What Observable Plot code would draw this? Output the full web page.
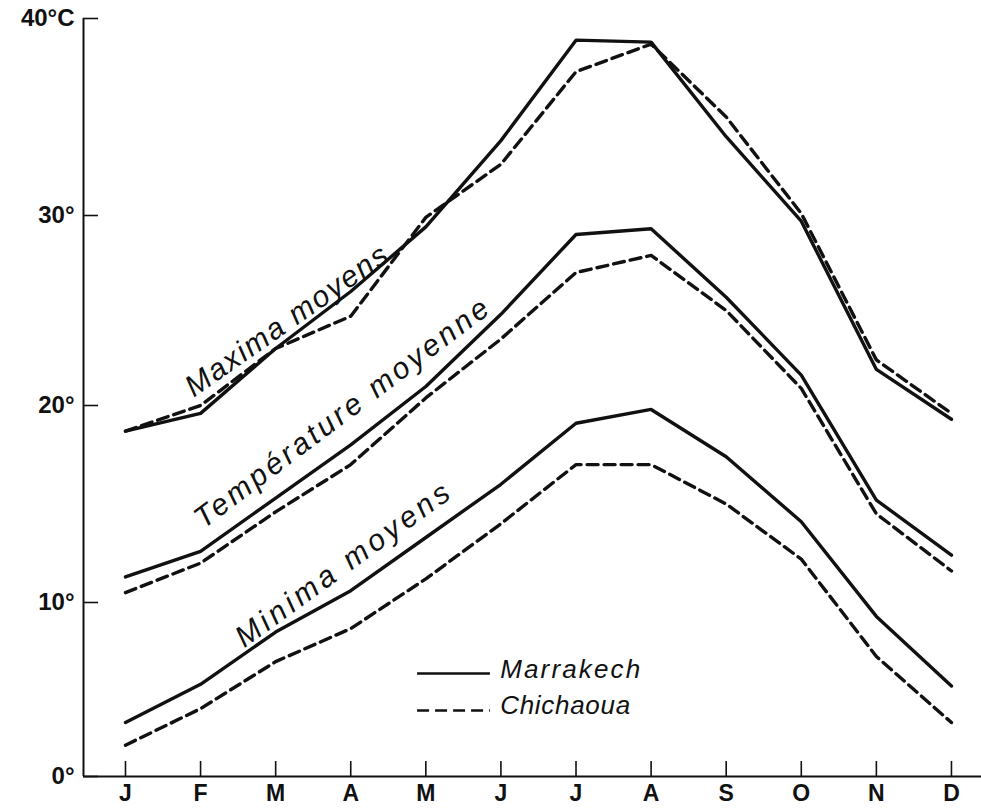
<!DOCTYPE html>
<html>
<head>
<meta charset="utf-8">
<script src="https://cdn.jsdelivr.net/npm/d3@7"></script>
<script src="https://cdn.jsdelivr.net/npm/@observablehq/plot@0.6"></script>
<style>
  html, body { margin: 0; padding: 0; background: #fff; }
  #chart svg { display: block; }
</style>
</head>
<body>
<div id="chart"></div>
<script>
// ---------- data ----------
const months = ["J", "F", "M", "A", "M", "J", "J", "A", "S", "O", "N", "D"];
const monthIndex = months.map((_, i) => i);

const marrakechMax  = [18.7, 19.6, 23.0, 26.0, 29.4, 33.8, 38.9, 38.8, 34.0, 29.7, 21.9, 19.3];
const chichaouaMax  = [18.7, 20.0, 23.0, 24.7, 29.9, 32.6, 37.3, 38.7, 35.0, 30.1, 22.4, 19.6];
const marrakechMean = [11.3, 12.6, 15.3, 18.0, 21.0, 24.8, 29.0, 29.3, 25.7, 21.6, 15.2, 12.4];
const chichaouaMean = [10.5, 12.0, 14.6, 17.0, 20.4, 23.5, 27.0, 27.9, 25.0, 20.9, 14.5, 11.6];
const marrakechMin  = [3.1, 5.3, 8.3, 10.6, 13.3, 16.0, 19.1, 19.8, 17.4, 14.1, 9.2, 5.2];
const chichaouaMin  = [1.8, 3.9, 6.6, 8.5, 11.2, 14.0, 17.0, 17.0, 15.0, 12.2, 6.9, 3.1];

const yTicks = [0, 10, 20, 30, 40];
const yTickLabels = ["0°", "10°", "20°", "30°", "40°C"];

const stations = ["Marrakech", "Chichaoua"];

const curveLabels = ["Maxima moyens", "Température moyenne", "Minima moyens"];
const curveLabelMonth = [2.144, 2.876, 2.89];
const curveLabelValue = [24.45, 19.6, 11.9];
const curveLabelAngle = [-35, -37, -36];

const legendValue = [5.92, 3.79];       // line samples
const legendTextValue = [6.15, 4.05];   // text centres
const legendMonth = [3.89, 4.86, 4.99]; // sample start, sample end, text start

// ---------- layout / style (not data) ----------
const W = 981, H = 810;
const xDomain = [-0.559, 11.4];
const yTickPixels = [776, 602, 405, 215, 18]; // hand-drawn, uneven axis
const labelLengths = {
  "Maxima moyens": 240, "Température moyenne": 360, "Minima moyens": 257,
  "Marrakech": 140, "Chichaoua": 130
};
const font = "'Liberation Sans', Arial, Helvetica, sans-serif";

// ---------- table ----------
const series = [
  {station: stations[0], kind: "max",  values: marrakechMax},
  {station: stations[1], kind: "max",  values: chichaouaMax},
  {station: stations[0], kind: "mean", values: marrakechMean},
  {station: stations[1], kind: "mean", values: chichaouaMean},
  {station: stations[0], kind: "min",  values: marrakechMin},
  {station: stations[1], kind: "min",  values: chichaouaMin}
];
const rows = series.flatMap(s => s.values.map((v, i) => ({m: monthIndex[i], v, station: s.station, kind: s.kind})));
const labelRows = curveLabels.map((t, i) => ({t, m: curveLabelMonth[i], v: curveLabelValue[i], a: curveLabelAngle[i]}));
const legendRows = stations.map((s, i) => ({s, v: legendValue[i], tv: legendTextValue[i]}));

const plot = Plot.plot({
  width: W,
  height: H,
  marginLeft: 83,
  marginRight: 0,
  marginTop: 18,
  marginBottom: 34,
  style: {fontFamily: font, background: "#fff", color: "#111"},
  x: {type: "linear", domain: xDomain, range: [83, W]},
  y: {type: "linear", domain: yTicks, range: yTickPixels},
  marks: [
    // axis lines
    Plot.ruleX([xDomain[0]], {y1: yTicks[0], y2: yTicks[yTicks.length - 1], stroke: "#111", strokeWidth: 2}),
    Plot.ruleY([yTicks[0]], {x1: xDomain[0], x2: xDomain[1], stroke: "#111", strokeWidth: 2}),
    Plot.axisY(yTicks, {
      anchor: "left", label: null, tickSize: -15, tickPadding: 24, strokeWidth: 1.6,
      tickFormat: d => yTickLabels[yTicks.indexOf(d)],
      fontSize: 24, fontWeight: "bold", fill: "#111"
    }),
    Plot.axisX(monthIndex, {
      anchor: "bottom", label: null, tickSize: -15, tickPadding: 23, strokeWidth: 1.6,
      tickFormat: d => months[d],
      fontSize: 23, fontWeight: "bold", fill: "#111"
    }),
    // curves
    Plot.line(rows.filter(d => d.station === stations[0]), {
      x: "m", y: "v", z: "kind", stroke: "#111", strokeWidth: 3.4, strokeLinejoin: "round"
    }),
    Plot.line(rows.filter(d => d.station === stations[1]), {
      x: "m", y: "v", z: "kind", stroke: "#111", strokeWidth: 3.4, strokeDasharray: "11,6"
    }),
    // curve labels
    Plot.text(labelRows, {
      x: "m", y: "v", text: "t", rotate: "a", fontSize: 30, fontStyle: "italic",
      fill: "#111", textAnchor: "middle", lineAnchor: "middle"
    }),
    // legend
    Plot.ruleY([legendRows[0]], {y: "v", x1: legendMonth[0], x2: legendMonth[1], stroke: "#111", strokeWidth: 2.6}),
    Plot.ruleY([legendRows[1]], {y: "v", x1: legendMonth[0], x2: legendMonth[1], stroke: "#111", strokeWidth: 2.6, strokeDasharray: "12,6"}),
    Plot.text(legendRows, {
      x: legendMonth[2], y: "tv", text: "s", fontSize: 26, fontStyle: "italic",
      fill: "#111", textAnchor: "start", lineAnchor: "middle"
    })
  ]
});

d3.select(plot).selectAll("text").each(function () {
  const t = this.textContent;
  if (labelLengths[t] !== undefined) {
    this.setAttribute("textLength", labelLengths[t]);
    this.setAttribute("lengthAdjust", "spacing");
  }
});

document.getElementById("chart").appendChild(plot);
</script>
</body>
</html>
